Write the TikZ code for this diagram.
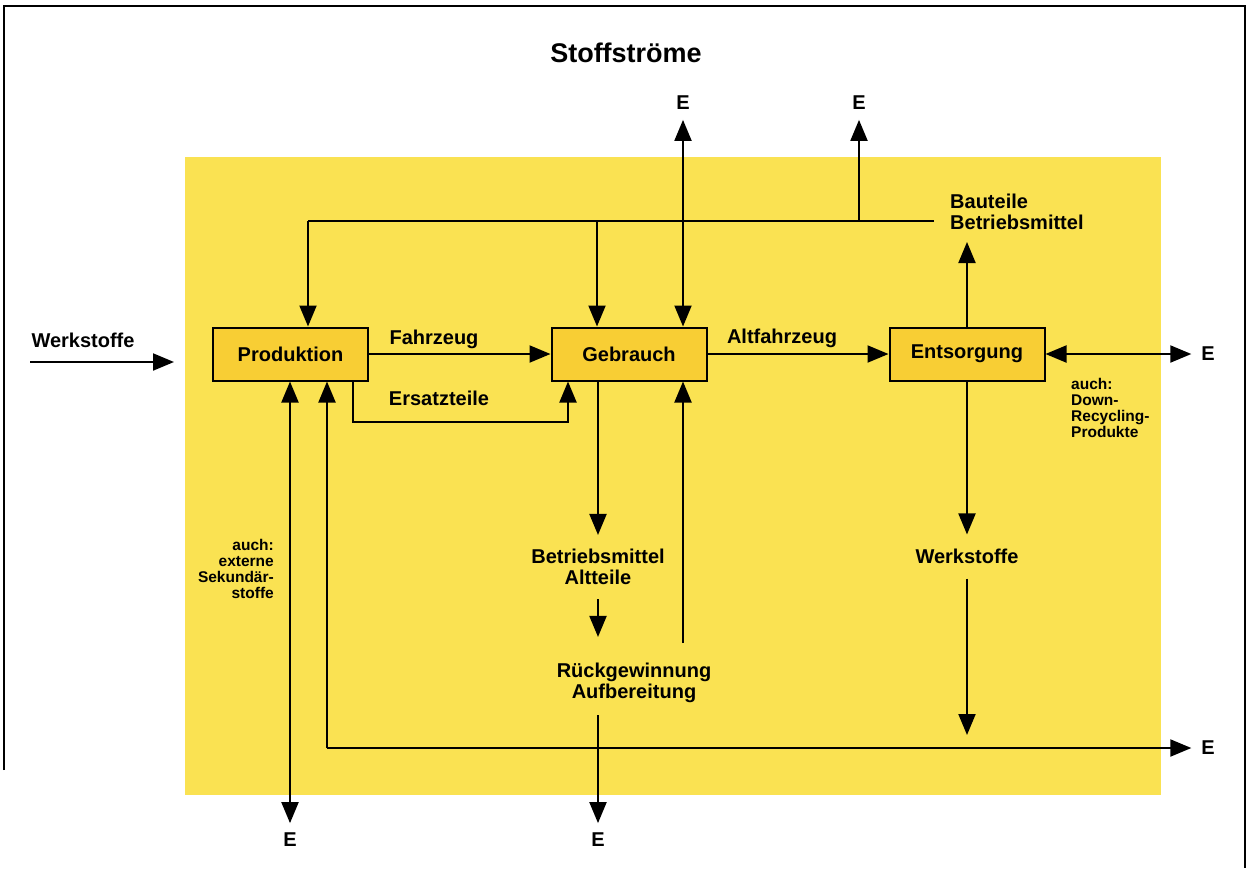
\documentclass[tikz,border=0pt]{standalone}
\usepackage{fontspec}
\setmainfont{Liberation Sans}
\usetikzlibrary{arrows.meta}
\definecolor{bgyellow}{RGB}{250,226,82}
\definecolor{boxyellow}{RGB}{248,206,52}
\begin{document}
\begin{tikzpicture}[x=1pt,y=-1pt,
  flow/.style={line width=2pt},
  arr/.style={flow,-{Triangle[length=21pt,width=17pt]}},
  arrboth/.style={flow,{Triangle[length=21pt,width=17pt]}-{Triangle[length=21pt,width=17pt]}},
  stage/.style={draw,line width=2pt,fill=boxyellow,minimum width=155pt,minimum height=53pt,
    inner sep=0pt,font=\bfseries\fontsize{20}{24}\selectfont},
  lbl/.style={font=\bfseries\fontsize{20}{21}\selectfont,inner sep=0pt},
  note/.style={font=\bfseries\fontsize{15.5}{16}\selectfont,inner sep=0pt},
  sink/.style={font=\bfseries\fontsize{20}{24}\selectfont,inner sep=0pt,outer sep=10pt}]
\useasboundingbox (0,0) rectangle (1250,868);

% frame and coloured field
\draw[line width=1.2pt] (4,770) -- (4,6) -- (1245,6) -- (1245,868);
\fill[bgyellow] (185,157) rectangle (1161,795);

\node[font=\bfseries\fontsize{27}{30}\selectfont] (title) at (626,53) {Stoffströme};

% the three stages
\node[stage] (prod) at (290.5,354) {Produktion};
\node[stage] (gebr) at (629,354) {Gebrauch};
\node[stage] (ents) at (967,354) {Entsorgung};

% flow labels
\node[lbl] (win) at (83,340) {Werkstoffe};
\node[lbl] (fz) at (434,339) {Fahrzeug};
\node[lbl] (et) at (439,398) {Ersatzteile};
\node[lbl] (afz) at (782,338) {Altfahrzeug};
\node[lbl,align=left,anchor=north west] (bp) at (950,194) {Bauteile\\Betriebsmittel};
\node[lbl,align=center] (bm) at (598,567) {Betriebsmittel\\Altteile};
\node[lbl,align=center] (rg) at (634,683) {Rückgewinnung\\Aufbereitung};
\node[lbl] (ws) at (967,556) {Werkstoffe};
\node[note,align=right,anchor=north east] (ext) at (274,539) {auch:\\externe\\Sekundär-\\stoffe};
\node[note,align=left,anchor=north west] (down) at (1071,378) {auch:\\Down-\\Recycling-\\Produkte};

% disposal outlets
\node[sink] (eA) at (683,103) {E};
\node[sink] (eB) at (859,103) {E};
\node[sink] (eC) at (1208,354) {E};
\node[sink] (eD) at (1208,748) {E};
\node[sink] (eE) at (290,840) {E};
\node[sink] (eF) at (598,840) {E};

% routing points
\coordinate (wa) at (30,362);
\coordinate (wb) at (174,362);
\coordinate (tl) at (308,221);
\coordinate (tr) at (934,221);
\coordinate (tg) at (597,221);
\coordinate (te) at (859,221);
\coordinate (bpin) at (967,242);
\coordinate (ea) at (353,422);
\coordinate (eb) at (568,422);
\coordinate (bl) at (327,748);
\coordinate (ru) at (683,643);
\coordinate (wsend) at (967,735);

% input
\draw[arr] (wa) -- (wb);

% main chain
\draw[arr] (prod.east) -- (gebr.west);
\draw[arr] (gebr.east) -- (ents.west);
\draw[arr] (ea |- prod.south) -- (ea) -- (eb) -- (eb |- gebr.south);

% return of parts and operating materials
\draw[flow] (tr) -- (tl);
\draw[arr] (tl) -- (tl |- prod.north);
\draw[arr] (tg) -- (tg |- gebr.north);
\draw[arr] (te) -- (eB.south);
\draw[arrboth] (eA.south) -- (eA.south |- gebr.north);
\draw[arr] (ents.north) -- (bpin);

% disposal side
\draw[arrboth] (ents.east) -- (eC.west);
\draw[arr,shorten >=14pt] (ents.south) -- (ws.north);
\draw[arr,shorten <=15pt] (ws.south) -- (wsend);

% recovered materials back to production
\draw[arr] (bl) -- (bl |- prod.south);
\draw[arr] (bl) -- (eD.west);
\draw[arrboth] (eE.north) -- (eE.north |- prod.south);

% use phase: old parts and recovery
\draw[arr,shorten >=14pt] (bm |- gebr.south) -- (bm.north);
\draw[arr,shorten <=14pt,shorten >=26pt] (bm.south) -- (bm.south |- rg.north);
\draw[arr,shorten <=12pt] (rg.south -| bm) -- (eF.north);
\draw[arr] (ru) -- (ru |- gebr.south);
\end{tikzpicture}
\end{document}
